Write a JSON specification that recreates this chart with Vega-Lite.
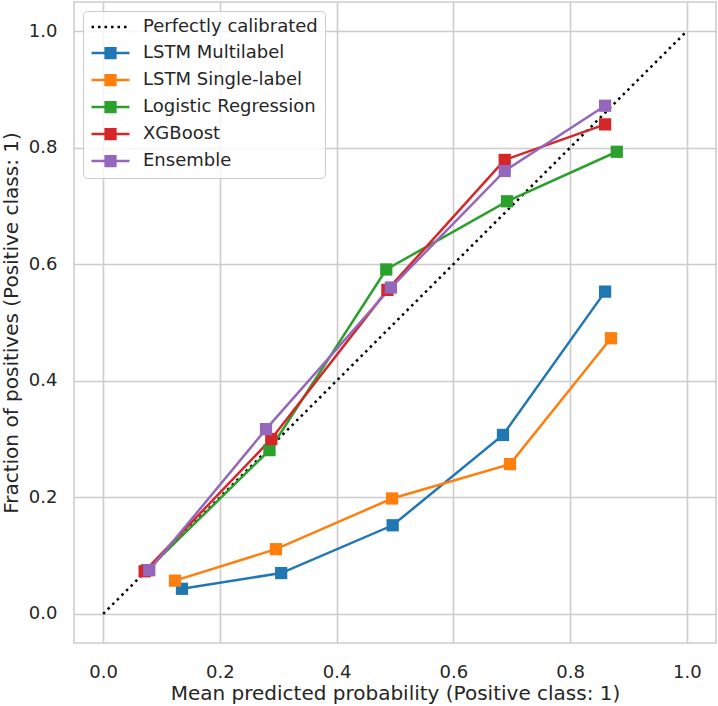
{
  "$schema": "https://vega.github.io/schema/vega-lite/v6.json",
  "autosize": "none",
  "width": 642,
  "height": 641,
  "padding": {"left": 74, "top": 2, "right": 2, "bottom": 63},
  "background": "white",
  "config": {
    "font": "DejaVu Sans",
    "view": {"stroke": "#cccccc", "strokeWidth": 1.6},
    "axis": {
      "domain": false,
      "ticks": false,
      "grid": true,
      "gridColor": "#cccccc",
      "gridWidth": 1.6,
      "labelFont": "DejaVu Sans",
      "labelFontSize": 18,
      "labelColor": "#262626",
      "titleFont": "DejaVu Sans",
      "titleFontSize": 20,
      "titleFontWeight": "normal",
      "titleColor": "#262626"
    },
    "legend": {
      "labelFont": "DejaVu Sans",
      "labelFontSize": 18,
      "labelColor": "#262626",
      "labelLimit": 400
    }
  },
  "datasets": {
    "calib": [
      {"model": "Perfectly calibrated", "x": 0.0, "y": 0.0, "order": 1},
      {"model": "Perfectly calibrated", "x": 1.0, "y": 1.0, "order": 2}
    ],
    "curves": [
      {"model": "LSTM Multilabel", "x": 0.135, "y": 0.043, "order": 1},
      {"model": "LSTM Multilabel", "x": 0.305, "y": 0.070, "order": 2},
      {"model": "LSTM Multilabel", "x": 0.496, "y": 0.152, "order": 3},
      {"model": "LSTM Multilabel", "x": 0.685, "y": 0.307, "order": 4},
      {"model": "LSTM Multilabel", "x": 0.860, "y": 0.553, "order": 5},
      {"model": "LSTM Single-label", "x": 0.123, "y": 0.057, "order": 1},
      {"model": "LSTM Single-label", "x": 0.296, "y": 0.111, "order": 2},
      {"model": "LSTM Single-label", "x": 0.495, "y": 0.198, "order": 3},
      {"model": "LSTM Single-label", "x": 0.697, "y": 0.257, "order": 4},
      {"model": "LSTM Single-label", "x": 0.870, "y": 0.473, "order": 5},
      {"model": "Logistic Regression", "x": 0.075, "y": 0.075, "order": 1},
      {"model": "Logistic Regression", "x": 0.285, "y": 0.281, "order": 2},
      {"model": "Logistic Regression", "x": 0.485, "y": 0.591, "order": 3},
      {"model": "Logistic Regression", "x": 0.692, "y": 0.708, "order": 4},
      {"model": "Logistic Regression", "x": 0.880, "y": 0.793, "order": 5},
      {"model": "XGBoost", "x": 0.071, "y": 0.073, "order": 1},
      {"model": "XGBoost", "x": 0.288, "y": 0.300, "order": 2},
      {"model": "XGBoost", "x": 0.487, "y": 0.556, "order": 3},
      {"model": "XGBoost", "x": 0.688, "y": 0.779, "order": 4},
      {"model": "XGBoost", "x": 0.860, "y": 0.840, "order": 5},
      {"model": "Ensemble", "x": 0.079, "y": 0.075, "order": 1},
      {"model": "Ensemble", "x": 0.279, "y": 0.317, "order": 2},
      {"model": "Ensemble", "x": 0.493, "y": 0.560, "order": 3},
      {"model": "Ensemble", "x": 0.688, "y": 0.760, "order": 4},
      {"model": "Ensemble", "x": 0.860, "y": 0.872, "order": 5}
    ]
  },
  "encoding": {
    "x": {
      "field": "x", "type": "quantitative",
      "scale": {"domain": [-0.05, 1.05], "nice": false, "zero": false},
      "axis": {"values": [0, 0.2, 0.4, 0.6, 0.8, 1.0], "format": ".1f", "labelPadding": 20, "titlePadding": 2,
               "title": "Mean predicted probability (Positive class: 1)"}
    },
    "y": {
      "field": "y", "type": "quantitative",
      "scale": {"domain": [-0.05, 1.05], "nice": false, "zero": false},
      "axis": {"values": [0, 0.2, 0.4, 0.6, 0.8, 1.0], "format": ".1f", "labelPadding": 17, "titlePadding": 7,
               "title": "Fraction of positives (Positive class: 1)"}
    },
    "color": {
      "field": "model", "type": "nominal",
      "scale": {
        "domain": ["Perfectly calibrated", "LSTM Multilabel", "LSTM Single-label", "Logistic Regression", "XGBoost", "Ensemble"],
        "range": ["#000000", "#1f77b4", "#ff7f0e", "#2ca02c", "#d62728", "#9467bd"]
      },
      "legend": {
        "title": null,
        "orient": "top-left",
        "offset": 9,
        "padding": 7,
        "rowPadding": 7,
        "symbolOffset": 11.5,
        "labelOffset": 23.5,
        "symbolSize": 169,
        "symbolStrokeWidth": 2.5,
        "fillColor": "rgba(255,255,255,0.8)",
        "strokeColor": "#cccccc",
        "cornerRadius": 4,
        "encode": {
          "symbols": {
            "update": {
              "shape": [
                {"test": "datum.value === 'Perfectly calibrated'", "value": "M-2.92,0H2.92"},
                {"value": "M-2.92,0H2.92M-0.75,-0.75H0.75V0.75H-0.75Z"}
              ],
              "strokeDash": [
                {"test": "datum.value === 'Perfectly calibrated'", "value": [2.5, 4]},
                {"value": [1, 0]}
              ],
              "fill": {"scale": "color", "field": "value"},
              "stroke": {"scale": "color", "field": "value"},
              "opacity": {"value": 1},
              "fillOpacity": {"value": 1},
              "strokeOpacity": {"value": 1}
            }
          }
        }
      }
    },
    "order": {"field": "order", "type": "quantitative"}
  },
  "layer": [
    {
      "data": {"name": "calib"},
      "mark": {"type": "line", "strokeDash": [2.5, 4], "strokeWidth": 2.5}
    },
    {
      "data": {"name": "curves"},
      "mark": {"type": "line", "strokeWidth": 2.5}
    },
    {
      "data": {"name": "curves"},
      "mark": {"type": "point", "shape": "square", "filled": true, "size": 150, "opacity": 1}
    }
  ]
}
